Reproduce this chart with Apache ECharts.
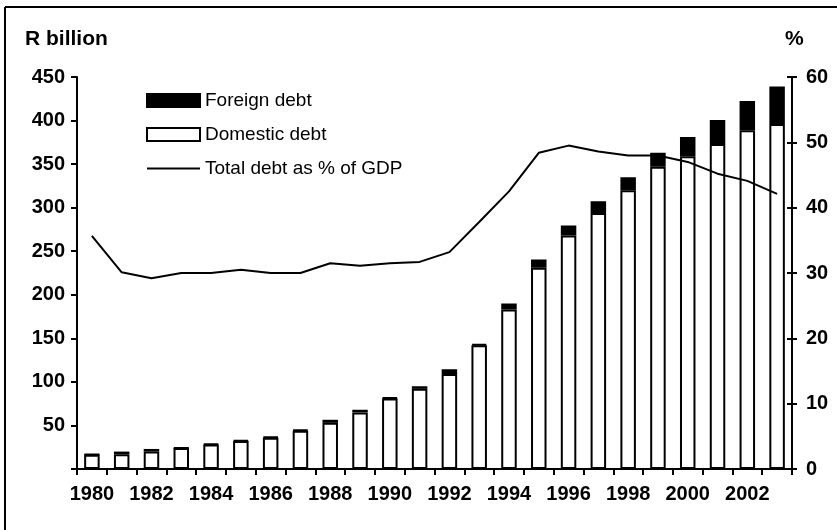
<!DOCTYPE html>
<html>
<head>
<meta charset="utf-8">
<script src="https://cdn.jsdelivr.net/npm/echarts@6/dist/echarts.min.js"></script>
<style>
  html, body { margin: 0; padding: 0; background: #fff; }
  #chart { width: 837px; height: 530px; }
</style>
</head>
<body>
<div id="chart"></div>
<script>
// Government debt, R billion (bars) and total debt as % of GDP (line)
const years = ['1980','1981','1982','1983','1984','1985','1986','1987','1988','1989','1990','1991',
               '1992','1993','1994','1995','1996','1997','1998','1999','2000','2001','2002','2003'];
const domesticDebt = [16.5, 17, 20, 24, 28, 32, 36, 44, 53, 65, 81, 92,
                      109, 142, 183, 231, 268, 294, 320, 347, 359, 373, 389, 396];
const foreignDebt = [0.3, 3, 3, 0.5, 1, 1, 1, 1, 3.5, 3, 1, 3,
                     5.5, 1.5, 7, 9.5, 11.5, 13.5, 15, 16, 22, 27.5, 33.5, 43];
const debtPctGdp = [35.7, 30.1, 29.2, 30.0, 30.0, 30.5, 30.0, 30.0, 31.5, 31.1, 31.5, 31.7,
                    33.2, 37.8, 42.5, 48.4, 49.5, 48.6, 48.0, 48.0, 47.0, 45.2, 44.1, 42.1];
const leftTitle = 'R billion';
const rightTitle = '%';

const FONT = '"Liberation Sans", Arial, sans-serif';
const chart = echarts.init(document.getElementById('chart'), null, { renderer: 'canvas' });

const axisLabelStyle = { color: '#000', fontFamily: FONT, fontWeight: 'bold', fontSize: 20 };

chart.setOption({
  animation: false,
  backgroundColor: '#fff',
  grid: { left: 77, right: 45, top: 77, bottom: 61, containLabel: false },
  legend: {
    orient: 'vertical',
    left: 141,
    top: 86,
    itemWidth: 53,
    itemHeight: 13,
    itemGap: 15,
    textStyle: { color: '#000', fontFamily: FONT, fontSize: 19 },
    data: [
      { name: 'Foreign debt', icon: 'rect', itemStyle: { color: '#000', borderColor: '#000', borderWidth: 2 } },
      { name: 'Domestic debt', icon: 'rect', itemStyle: { color: '#fff', borderColor: '#000', borderWidth: 2 } },
      { name: 'Total debt as % of GDP', itemStyle: { opacity: 0, borderWidth: 0 } }
    ]
  },
  graphic: [
    { type: 'line', shape: { x1: 5, y1: 7, x2: 837, y2: 7 }, style: { stroke: '#000', lineWidth: 2 } },
    { type: 'line', shape: { x1: 5, y1: 7, x2: 5, y2: 530 }, style: { stroke: '#000', lineWidth: 2 } },
    { type: 'text', left: 25, top: 29, style: { text: leftTitle, fill: '#000', font: 'bold 21px ' + FONT } },
    { type: 'text', left: 785, top: 29, style: { text: rightTitle, fill: '#000', font: 'bold 21px ' + FONT } }
  ],
  xAxis: {
    type: 'category',
    data: years,
    boundaryGap: true,
    axisLine: { lineStyle: { color: '#000', width: 2 } },
    axisTick: { show: true, interval: 0, length: 6, lineStyle: { color: '#000', width: 2 } },
    axisLabel: Object.assign({ interval: 1, margin: 15 }, axisLabelStyle),
    splitLine: { show: false }
  },
  yAxis: [
    {
      type: 'value', min: 0, max: 450, interval: 50, position: 'left',
      axisLine: { show: true, lineStyle: { color: '#000', width: 2 } },
      axisTick: { show: true, length: 6, lineStyle: { color: '#000', width: 2 } },
      axisLabel: Object.assign({ margin: 12, formatter: v => (v === 0 ? '' : String(v)) }, axisLabelStyle),
      splitLine: { show: false }
    },
    {
      type: 'value', min: 0, max: 60, interval: 10, position: 'right',
      axisLine: { show: true, lineStyle: { color: '#000', width: 2 } },
      axisTick: { show: true, length: 5, lineStyle: { color: '#000', width: 2 } },
      axisLabel: Object.assign({ margin: 14 }, axisLabelStyle),
      splitLine: { show: false }
    },
    {
      // inner half of the crossing ticks on the right axis
      type: 'value', min: 0, max: 60, interval: 10, position: 'right',
      axisLine: { show: false },
      axisTick: { show: true, inside: true, length: 5, lineStyle: { color: '#000', width: 2 } },
      axisLabel: { show: false },
      splitLine: { show: false }
    }
  ],
  series: [
    {
      name: 'Domestic debt', type: 'bar', stack: 'debt', data: domesticDebt,
      barWidth: '52%',
      itemStyle: { color: '#fff', borderColor: '#000', borderWidth: 2 }
    },
    {
      name: 'Foreign debt', type: 'bar', stack: 'debt', data: foreignDebt,
      barWidth: '52%',
      itemStyle: { color: '#000', borderColor: '#000', borderWidth: 2 }
    },
    {
      name: 'Total debt as % of GDP', type: 'line', yAxisIndex: 1, data: debtPctGdp,
      symbol: 'none', smooth: false,
      lineStyle: { color: '#000', width: 2 },
      itemStyle: { color: '#000' }
    }
  ]
});
</script>
</body>
</html>
